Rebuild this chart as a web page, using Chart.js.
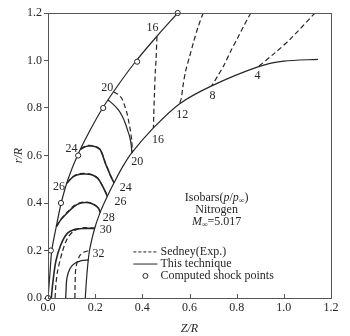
<!DOCTYPE html>
<html>
<head>
<meta charset="utf-8">
<script src="https://cdn.jsdelivr.net/npm/chart.js@4.4.1/dist/chart.umd.min.js"></script>
<style>
  html, body { margin: 0; padding: 0; background: #fff; }
  #wrap { width: 350px; height: 336px; }
</style>
</head>
<body>
<div id="wrap"><canvas id="chart" width="350" height="336"></canvas></div>
<script>
// --- Dados: pares [Z/R, r/R] ---
const xTicks = [0, 0.2, 0.4, 0.6, 0.8, 1.0, 1.2];
const yTicks = [0, 0.2, 0.4, 0.6, 0.8, 1.0, 1.2];

// choque e corpo
const shock = [[0,0],[0.008,0.1],[0.016,0.2],[0.035,0.3],[0.056,0.4],[0.085,0.5],[0.125,0.6],[0.175,0.7],[0.232,0.8],[0.3,0.9],[0.375,1.0],[0.46,1.1],[0.55,1.2]];
const body = [[0.158,0],[0.165,0.1],[0.176,0.2],[0.2,0.3],[0.225,0.37],[0.25,0.425],[0.28,0.485],[0.315,0.55],[0.354,0.61],[0.447,0.716],[0.557,0.817],[0.694,0.893],[0.89,0.973],[1.0,0.997],[1.145,1.005]];
const shockPoints = [[0,0],[0.012,0.2],[0.055,0.4],[0.128,0.6],[0.234,0.8],[0.378,0.995],[0.55,1.2]];

// isóbaras - esta técnica (linha cheia)
const iso32 = [[0.075,0],[0.077,0.04],[0.08,0.083],[0.094,0.125],[0.114,0.146],[0.142,0.157],[0.172,0.16]];
const iso30 = [[0.014,0],[0.02,0.06],[0.033,0.153],[0.054,0.223],[0.082,0.272],[0.118,0.29],[0.16,0.293],[0.198,0.293]];
const iso28 = [[0.035,0.3],[0.055,0.33],[0.08,0.357],[0.11,0.385],[0.136,0.399],[0.16,0.402],[0.179,0.4],[0.2,0.39],[0.214,0.378],[0.222,0.36]];
const iso26 = [[0.08,0.483],[0.095,0.5],[0.108,0.511],[0.13,0.52],[0.15,0.522],[0.175,0.521],[0.193,0.516],[0.21,0.505],[0.221,0.49],[0.232,0.47],[0.243,0.448],[0.252,0.427]];
const iso24 = [[0.138,0.626],[0.155,0.636],[0.17,0.64],[0.186,0.64],[0.205,0.636],[0.221,0.625],[0.232,0.6],[0.243,0.567],[0.255,0.54],[0.265,0.515],[0.28,0.485]];
const iso20 = [[0.254,0.835],[0.28,0.812],[0.3,0.79],[0.315,0.765],[0.328,0.735],[0.338,0.705],[0.346,0.68],[0.352,0.65],[0.356,0.61]];

// isóbaras - Sedney (experimental, tracejado)
const exp32 = [[0.114,0],[0.115,0.06],[0.118,0.125],[0.132,0.174],[0.15,0.192],[0.177,0.2]];
const exp30 = [[0.03,0],[0.033,0.05],[0.04,0.11],[0.061,0.195],[0.082,0.25],[0.11,0.282],[0.153,0.296],[0.198,0.294]];
const exp28 = [[0.036,0.302],[0.056,0.333],[0.08,0.36],[0.11,0.388],[0.136,0.401],[0.16,0.404],[0.18,0.401],[0.2,0.391],[0.214,0.378],[0.222,0.36]];
const exp26 = [[0.081,0.485],[0.108,0.513],[0.13,0.523],[0.15,0.525],[0.175,0.523],[0.193,0.517],[0.21,0.506],[0.221,0.49],[0.243,0.447],[0.252,0.427]];
const exp24 = [[0.139,0.628],[0.155,0.638],[0.17,0.643],[0.186,0.642],[0.205,0.637],[0.222,0.624],[0.233,0.6],[0.244,0.567],[0.265,0.515],[0.28,0.485]];
const exp20 = [[0.278,0.868],[0.3,0.855],[0.313,0.84],[0.325,0.81],[0.335,0.777],[0.343,0.74],[0.349,0.707],[0.355,0.665],[0.358,0.61]];
const exp16 = [[0.462,1.1],[0.458,1.0],[0.455,0.953],[0.451,0.85],[0.448,0.757],[0.447,0.716]];
const exp12 = [[0.658,1.2],[0.636,1.14],[0.618,1.08],[0.6,1.015],[0.583,0.953],[0.572,0.89],[0.565,0.84],[0.557,0.817]];
const exp8 = [[0.86,1.2],[0.83,1.145],[0.803,1.093],[0.775,1.04],[0.746,0.98],[0.72,0.935],[0.694,0.893]];
const exp4 = [[1.132,1.2],[1.03,1.093],[0.96,1.03],[0.89,0.973]];

// rótulos das isóbaras (texto e posição em Z/R, r/R)
const isoLabels = ['16', '20', '24', '26', '16', '20', '24', '26', '28', '30', '32', '12', '8', '4'];
const isoLabelZ = [0.443, 0.251, 0.1, 0.047, 0.466, 0.378, 0.33, 0.307, 0.258, 0.245, 0.214, 0.569, 0.697, 0.888];
const isoLabelR = [1.137, 0.884, 0.63, 0.466, 0.665, 0.574, 0.462, 0.405, 0.336, 0.286, 0.184, 0.771, 0.852, 0.936];

const legendItems = ['Sedney(Exp.)', 'This technique', 'Computed shock points'];

const INK = '#262626';
const SERIF = '"Liberation Serif", "Times New Roman", serif';
const toPts = arr => arr.map(([x, y]) => ({ x, y }));

const solid = (data, w) => ({ data: toPts(data), showLine: true, pointRadius: 0, borderColor: INK, borderWidth: w, tension: 0.3, fill: false });
const dashed = data => ({ ...solid(data, 1.2), borderDash: [5, 3] });

// --- Plugin: moldura, ticks internos, rótulos, legenda e anotações ---
const decor = {
    id: 'decor',
    afterDraw(chart) {
        const { ctx, chartArea: a, scales: { x, y } } = chart;
        const px = v => x.getPixelForValue(v);
        const py = v => y.getPixelForValue(v);
        ctx.save();
        ctx.strokeStyle = '#555';
        ctx.lineWidth = 1;
        ctx.strokeRect(a.left + 0.5, a.top + 0.5, a.right - a.left, a.bottom - a.top);
        xTicks.forEach(v => {
            const p = Math.round(px(v)) + 0.5;
            ctx.beginPath(); ctx.moveTo(p, a.bottom); ctx.lineTo(p, a.bottom - 4); ctx.stroke();
        });

        ctx.fillStyle = INK;
        ctx.font = `12px ${SERIF}`;
        ctx.textAlign = 'center';
        ctx.textBaseline = 'middle';
        isoLabels.forEach((t, i) => ctx.fillText(t, px(isoLabelZ[i]), py(isoLabelR[i])));

        // legenda
        const lx0 = px(0.362), lx1 = px(0.464), tx = px(0.477);
        const rows = [0.194, 0.143, 0.093].map(py);
        ctx.strokeStyle = INK;
        ctx.lineWidth = 1;
        ctx.setLineDash([3, 2]);
        ctx.beginPath(); ctx.moveTo(lx0, rows[0]); ctx.lineTo(lx1, rows[0]); ctx.stroke();
        ctx.setLineDash([]);
        ctx.beginPath(); ctx.moveTo(lx0, rows[1]); ctx.lineTo(lx1, rows[1]); ctx.stroke();
        ctx.beginPath(); ctx.arc((lx0 + lx1) / 2, rows[2], 2.5, 0, Math.PI * 2); ctx.stroke();
        ctx.textAlign = 'left';
        legendItems.forEach((t, i) => ctx.fillText(t, tx, rows[i]));

        // anotação Isobars / Nitrogen / Mach
        const rich = (parts, cx, cy) => {
            const fonts = { n: `12px ${SERIF}`, i: `italic 12px ${SERIF}`, s: `italic 8px ${SERIF}` };
            let w = 0;
            parts.forEach(([t, f]) => { ctx.font = fonts[f]; w += ctx.measureText(t).width; });
            let cur = cx - w / 2;
            parts.forEach(([t, f]) => {
                ctx.font = fonts[f];
                ctx.fillText(t, cur, cy + (f === 's' ? 3 : 0));
                cur += ctx.measureText(t).width;
            });
        };
        const cx = px(0.715);
        rich([['Isobars(', 'n'], ['p', 'i'], ['/', 'n'], ['p', 'i'], ['\u221E', 's'], [')', 'n']], cx, py(0.421));
        rich([['Nitrogen', 'n']], cx, py(0.37));
        rich([['M', 'i'], ['\u221E', 's'], ['=5.017', 'n']], cx, py(0.319));
        ctx.restore();
    }
};

new Chart(document.getElementById('chart'), {
    type: 'scatter',
    data: {
        datasets: [
            { data: toPts(shockPoints), pointRadius: 2.6, pointBorderWidth: 1, pointBackgroundColor: '#fff', pointBorderColor: INK, clip: false },
            solid(shock, 1.2), solid(body, 1.2),
            solid(iso32, 1.3), solid(iso30, 1.6), solid(iso28, 1.6), solid(iso26, 1.6), solid(iso24, 1.6), solid(iso20, 1.2),
            dashed(exp32), dashed(exp30), dashed(exp28), dashed(exp26), dashed(exp24), dashed(exp20),
            dashed(exp16), dashed(exp12), dashed(exp8), dashed(exp4)
        ]
    },
    options: {
        responsive: false,
        animation: false,
        layout: { padding: { top: 13, right: 19, left: 0, bottom: 0 } },
        plugins: { legend: { display: false }, tooltip: { enabled: false } },
        scales: {
            x: {
                type: 'linear', min: 0, max: 1.2,
                afterBuildTicks: s => { s.ticks = xTicks.map(v => ({ value: v })); },
                afterFit: s => { s.height = 38; },
                grid: { display: false, drawTicks: false },
                border: { display: false },
                ticks: { padding: 3, color: INK, font: { family: SERIF, size: 12 }, callback: v => v.toFixed(1), maxRotation: 0 },
                title: { display: true, text: 'Z/R', color: INK, font: { family: SERIF, size: 12, style: 'italic' }, padding: { top: 7, bottom: 0 } }
            },
            y: {
                type: 'linear', min: 0, max: 1.2,
                afterBuildTicks: s => { s.ticks = yTicks.map(v => ({ value: v })); },
                afterFit: s => { s.width = 48; },
                grid: { display: true, drawOnChartArea: false, drawTicks: true, tickLength: 4, color: '#555' },
                border: { display: false },
                ticks: { padding: 2, color: INK, font: { family: SERIF, size: 12 }, callback: v => v.toFixed(1) },
                title: { display: true, text: 'r/R', color: INK, font: { family: SERIF, size: 12, style: 'italic' }, padding: { top: 12, bottom: 0 } }
            }
        }
    },
    plugins: [decor]
});
</script>
</body>
</html>
